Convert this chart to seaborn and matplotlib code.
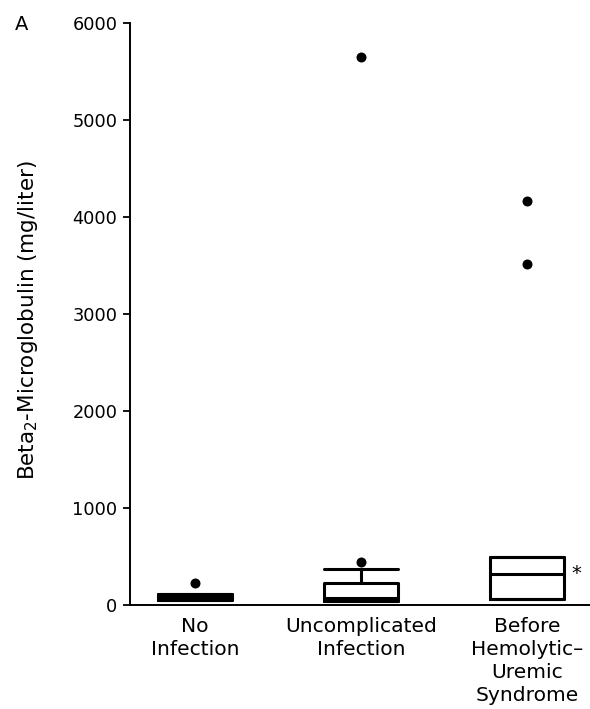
import matplotlib
matplotlib.use("Agg")
import matplotlib.pyplot as plt
import seaborn as sns
import pandas as pd

# ---- data ----
categories = ["No\nInfection", "Uncomplicated\nInfection", "Before\nHemolytic–\nUremic\nSyndrome"]
q1 = [50, 45, 58]
median = [80, 72, 320]
q3 = [110, 224, 498]
whisker_low = [50, 45, 58]
whisker_high = [110, 368, 498]
outlier_group = ["No\nInfection", "Uncomplicated\nInfection", "Uncomplicated\nInfection",
                 "Before\nHemolytic–\nUremic\nSyndrome", "Before\nHemolytic–\nUremic\nSyndrome"]
outlier_value = [224, 443, 5650, 4168, 3515]
y_ticks = [0, 1000, 2000, 3000, 4000, 5000, 6000]

sns.set_theme(style="white")
plt.rcParams["font.family"] = ["DejaVu Sans"]

fig = plt.figure(figsize=(5.9, 7.09), dpi=100)
ax = fig.add_axes([130 / 590, 1 - 605 / 709, 460 / 590, (605 - 23) / 709])

stats = []
for i, c in enumerate(categories):
    stats.append(dict(label=c, q1=q1[i], med=median[i], q3=q3[i],
                      whislo=whisker_low[i], whishi=whisker_high[i], fliers=[]))

lw = 2.2
bw = 0.445
ax.bxp(stats, positions=range(len(categories)), widths=bw, capwidths=bw,
       showfliers=False,
       boxprops=dict(color="black", linewidth=lw),
       medianprops=dict(color="black", linewidth=lw),
       whiskerprops=dict(color="black", linewidth=lw),
       capprops=dict(color="black", linewidth=lw),
       manage_ticks=False)

df = pd.DataFrame({"group": pd.Categorical(outlier_group, categories=categories),
                   "value": outlier_value})
sns.stripplot(data=df, x="group", y="value", order=categories, jitter=False,
              color="black", size=7.2, ax=ax, zorder=5, clip_on=False)

ax.text(2.3, median[2], "*", ha="center", va="center", fontsize=14, color="black")

ax.set_xlim(-0.39, 2.38)
ax.set_ylim(0, 6000)
ax.set_yticks(y_ticks)
ax.set_xticks(range(len(categories)))
ax.set_xticklabels(categories, fontsize=14.6, linespacing=1.25)
ax.tick_params(axis="x", length=0, pad=9, colors="black")
ax.tick_params(axis="y", length=5, width=1.3, labelsize=12.8, colors="black", pad=4,
               direction="out", left=True)
ax.set_xlabel("")
ax.set_ylabel(r"Beta$_2$-Microglobulin (mg/liter)", fontsize=15.5, color="black")
ax.yaxis.set_label_coords(-0.195, 0.49)

for s in ["top", "right"]:
    ax.spines[s].set_visible(False)
for s in ["left", "bottom"]:
    ax.spines[s].set_color("black")
    ax.spines[s].set_linewidth(1.4)

fig.text(22 / 590, 1 - 24 / 709, "A", ha="center", va="center", fontsize=14, color="black")

fig.savefig("out.png", dpi=100)
